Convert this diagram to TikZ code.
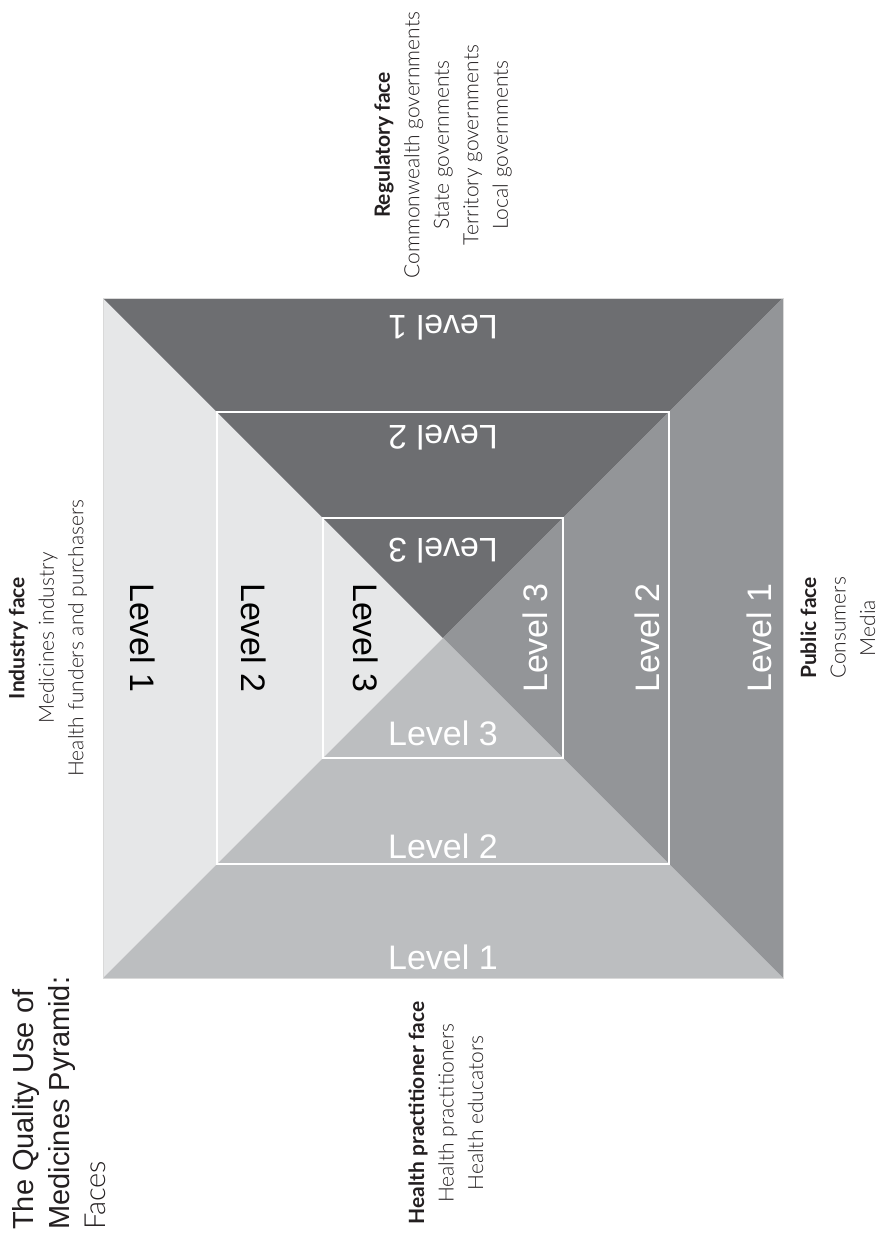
\documentclass[tikz,border=0pt]{standalone}
\usepackage{fontspec}
\setmainfont{Liberation Sans}
\IfFontExistsTF{Lato Light}{\newfontfamily\lightfont{Lato Light}}{\newfontfamily\lightfont{Liberation Sans}}
\IfFontExistsTF{Lato Bold}{\newfontfamily\facefont{Lato Bold}}{\newfontfamily\facefont{Liberation Sans Bold}}
\usepackage{tikz}
\usetikzlibrary{calc}

\definecolor{faceleft}{HTML}{E6E7E8}
\definecolor{facetop}{HTML}{6D6E71}
\definecolor{faceright}{HTML}{939598}
\definecolor{facebottom}{HTML}{BCBEC0}
\definecolor{textgrey}{HTML}{231F20}

\begin{document}
\begin{tikzpicture} [
  x=1pt, y=-1pt,
  level text/.style= {font=\fontsize{34}{40}\selectfont,inner sep=0pt,text=white},
  face text/.style= {font=\lightfont\fontsize{21}{29.5}\selectfont,align=center,inner sep=0pt,rotate=90,text=textgrey},
  title text/.style= {font=\fontsize{29}{36}\selectfont,align=left,inner sep=0pt,rotate=90,text=textgrey},
  square frame/.style={draw=white,line width=2pt}
]
\useasboundingbox (0,0) rectangle (887,1240);
\coordinate (c) at (443,638);
\coordinate (tl) at (103,298);
\coordinate (tr) at (783,298);
\coordinate (br) at (783,978);
\coordinate (bl) at (103,978);

% the four faces
\fill[faceleft] (tl) -- (c) -- (bl) -- cycle;
\fill[facetop] (tl) -- (c) -- (tr) -- cycle;
\fill[faceright] (tr) -- (c) -- (br) -- cycle;
\fill[facebottom] (bl) -- (c) -- (br) -- cycle;
\draw[black!15,line width=1pt] (tl) rectangle (br);
\foreach \r in {226,120}
  \draw[square frame,shift={(c)}] (-\r,-\r) rectangle (\r,\r);

% levels on each face
\foreach \n/\l/\t/\r/\b in {1/300/310/316/319,2/189/200/204/208,3/77/87/92/95} {
  \node[level text,text=black,rotate=-90] (left\n) at ($(c)+(-\l,0)$) {Level \n};
  \node[level text,rotate=180] (top\n) at ($(c)+(0,-\t)$) {Level \n};
  \node[level text,rotate=90] (right\n) at ($(c)+(\r,0)$) {Level \n};
  \node[level text] (bottom\n) at ($(c)+(0,\b)$) {Level \n};
}

\node[face text] (industry) at (48,638) {{\facefont Industry face}\\Medicines industry\\Health funders and purchasers};
\node[face text] (regulatory) at (443,145) {{\facefont Regulatory face}\\Commonwealth governments\\State governments\\Territory governments\\Local governments};
\node[face text] (public) at (838,628) {{\facefont Public face}\\Consumers\\Media};
\node[face text] (practitioner) at (446,1113) {{\facefont Health practitioner face}\\Health practitioners\\Health educators};

\node[title text,anchor=north west] (title) at (12,1230) {The Quality Use of\\Medicines Pyramid:\\{\lightfont Faces}};
\end{tikzpicture}
\end{document}
